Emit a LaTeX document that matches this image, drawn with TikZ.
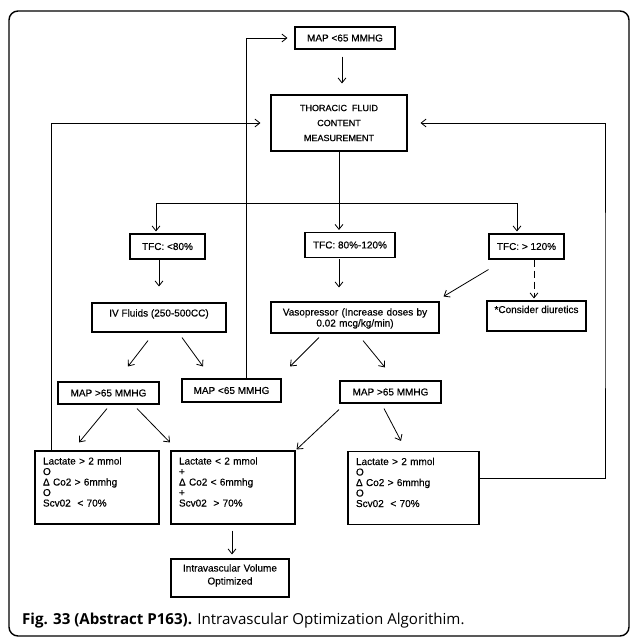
\documentclass[tikz,border=0pt]{standalone}
\usepackage{fontspec}
\setmainfont{Liberation Sans}
\newfontfamily\boxfont{Liberation Sans}[FakeBold=0.4]
\newfontfamily\capfont{Open Sans}
\usepackage{tikz}
\usetikzlibrary{arrows.meta}

\tikzset{
  box/.style={draw, line width=1.1pt, inner sep=3pt, align=center, font=\boxfont\fontsize{10}{11}\selectfont},
  lacbox/.style={box, align=left, inner xsep=8pt, inner ysep=5pt, text height=8.5pt, text depth=54.5pt, font=\boxfont\fontsize{10}{10.5}\selectfont},
  flow/.style={-{Straight Barb[length=5pt,width=8pt]}, line width=0.8pt},
  link/.style={line width=0.8pt}
}

\begin{document}
\begin{tikzpicture}[x=1pt, y=-1pt]
             \useasboundingbox (0,0) rectangle (630,638);
             \draw[line width=1.4pt, rounded corners=9pt] (9,11) rectangle (629,636);

             \node[box, minimum width=100, minimum height=22] (mapTop) at (345,38) {MAP <65 MMHG};
             \node[box, minimum width=136, minimum height=56, font=\boxfont\fontsize{9}{15}\selectfont] (tfm) at (339,123) {THORACIC\ \ FLUID\\CONTENT\\MEASUREMENT};

             \node[box, minimum width=75, minimum height=25] (tfcLow) at (167.5,246.5) {TFC: <80\%};
             \node[box, minimum width=90, minimum height=25] (tfcMid) at (350,245) {TFC: 80\%-120\%};
             \node[box, minimum width=75, minimum height=25] (tfcHigh) at (526.5,246.5) {TFC: > 120\%};

             \node[box, minimum width=134, inner ysep=4pt, text height=9.5pt, text depth=11.5pt] (ivf) at (159,317.5) {IV Fluids (250-500CC)};
             \node[box, text width=162, inner ysep=4pt, text height=9.5pt, text depth=13.5pt] (vaso) at (355,317.5) {Vasopressor (Increase doses by\\0.02 mcg/kg/min)};
             \node[box, minimum width=99, inner ysep=3pt, text height=9pt, text depth=15pt] (diur) at (536.5,316) {*Consider diuretics};

             \node[box, minimum width=101, minimum height=22] (mapL) at (108.5,393) {MAP >65 MMHG};
             \node[box, minimum width=99, minimum height=23] (mapM) at (231.5,390.5) {MAP <65 MMHG};
             \node[box, minimum width=101, minimum height=22] (mapR) at (390.5,392) {MAP >65 MMHG};

             \node[lacbox, text width=108] (lacL) at (97,487.5) {Lactate > 2 mmol\\O\\Δ Co2 > 6mmhg\\O\\Scv02\ \ < 70\%};
             \node[lacbox, text width=108] (lacM) at (233,487.5) {Lactate < 2 mmol\\+\\Δ Co2 < 6mmhg\\+\\Scv02\ \ > 70\%};
             \node[lacbox, text width=115] (lacR) at (413.5,488) {Lactate > 2 mmol\\O\\Δ Co2 > 6mmhg\\O\\Scv02\ \ < 70\%};

             \node[box, text width=112, inner ysep=4pt, text height=8.5pt, text depth=21.5pt, font=\boxfont\fontsize{10}{13}\selectfont] (ivo) at (230,578) {Intravascular Volume\\Optimized};

             \node[anchor=base west, inner sep=0pt, font=\capfont\fontsize{15.1}{16}\selectfont] (caption) at (22,624) {\textbf{Fig. 33 (Abstract P163).} Intravascular Optimization Algorithim.};

             \draw[flow, shorten <=7pt, shorten >=11pt] ([xshift=-3]mapTop.south) -- ([xshift=3]tfm.north);

             \coordinate (split) at (339,203);
             \draw[link] (tfm.south) -- (split);
             \draw[flow, shorten >=2pt] (split) -| ([xshift=-11.5]tfcLow.north);
             \draw[flow, shorten >=2pt] (split) -- ([xshift=-11]tfcMid.north);
             \draw[flow, shorten >=2pt] (split) -| ([xshift=-9.5]tfcHigh.north);

             \draw[flow, shorten >=16pt] ([xshift=-8.5]tfcLow.south) -- ([xshift=-8.5]tfcLow.south |- ivf.north);
             \draw[flow, shorten <=1pt, shorten >=14pt] ([xshift=-11]tfcMid.south) -- ([xshift=-11]tfcMid.south |- vaso.north);
             \draw[flow] ([yshift=-10]tfcHigh.south west) -- ([xshift=4,yshift=5]vaso.north east);
             \draw[flow, dash pattern=on 7pt off 4pt, shorten >=2pt] ([xshift=7.5]tfcHigh.south) -- ([xshift=-2.5]diur.north);

             \draw[flow] ([xshift=-11,yshift=-8]ivf.south) -- ([xshift=19.5,yshift=15]mapL.north);
             \draw[flow] ([xshift=23,yshift=-5]ivf.south) -- ([xshift=-28.5,yshift=12]mapM.north);
             \draw[flow] ([xshift=-36,yshift=-4]vaso.south) -- ([xshift=58.5,yshift=12]mapM.north);
             \draw[flow] ([xshift=8,yshift=-7]vaso.south) -- ([xshift=-5.5,yshift=13]mapR.north);

             \draw[flow] ([xshift=-1.5,yshift=-4]mapL.south) -- ([xshift=-18,yshift=8]lacL.north);
             \draw[flow] ([xshift=28.5,yshift=-4]mapL.south) -- ([xshift=-63,yshift=8]lacM.north);
             \draw[flow] ([xshift=-51.5,yshift=-6]mapR.south) -- ([xshift=1,yshift=1]lacM.north east);
             \draw[flow] ([xshift=-6.5,yshift=-5]mapR.south) -- ([xshift=-12.5,yshift=10]lacR.north);

             \draw[flow, shorten <=6pt, shorten >=4pt] ([xshift=-1]lacM.south) -- ([xshift=-1]lacM.south |- ivo.north);

             % feedback loops
             \draw[flow, shorten >=7pt] ([xshift=14.5]mapM.north) |- (mapTop.west);
             \draw[flow, shorten >=10pt] ([xshift=-46]lacL.north) |- (tfm.west);
             \coordinate (rloop) at (605,300);
             \draw[flow, shorten >=13pt] ([yshift=10]lacR.east) -| (rloop) |- (tfm.east);
\end{tikzpicture}
\end{document}
